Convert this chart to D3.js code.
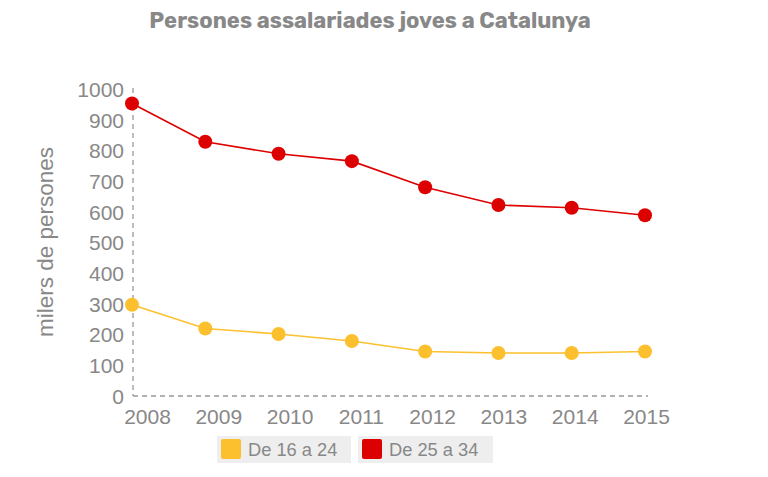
<!DOCTYPE html>
<html><head><meta charset="utf-8">
<script src="https://cdn.jsdelivr.net/npm/d3@7"></script>
<style>body{margin:0;background:#fff}</style>
</head><body>
<svg id="c" width="768" height="477"></svg>
<script>
const years = ["2008","2009","2010","2011","2012","2013","2014","2015"];
const yTicks = [0,100,200,300,400,500,600,700,800,900,1000];
const young = [297, 220, 202, 179, 145, 140, 140, 145];
const adult = [953, 828, 789, 765, 680, 622, 613, 589];
const seriesNames = ["De 16 a 24", "De 25 a 34"];
const seriesColors = ["#fcc02e", "#dd0000"];

const svg = d3.select("#c");
const x = d3.scalePoint().domain(years).range([132, 645]);
const xLab = d3.scalePoint().domain(years).range([147, 646]);
const y = d3.scaleLinear().domain([0, 1000]).range([396, 89]);
const grey = "#888";
const FF = "'Liberation Sans', Arial, sans-serif";

svg.append("text").attr("x", 370).attr("y", 28).attr("text-anchor", "middle")
  .attr("font-family", "Rubik, 'Open Sans', sans-serif").attr("font-weight", "bold")
  .attr("font-size", 22).attr("fill", grey).text("Persones assalariades joves a Catalunya");

svg.append("line").attr("x1", 133).attr("x2", 133).attr("y1", 88).attr("y2", 396)
  .attr("stroke", "#999").attr("stroke-width", 1.3).attr("stroke-dasharray", "5,4");
svg.append("line").attr("x1", 133).attr("x2", 648).attr("y1", 396).attr("y2", 396)
  .attr("stroke", "#999").attr("stroke-width", 1.3).attr("stroke-dasharray", "5,4");

const yAxis = d3.axisLeft(y).tickValues(yTicks).tickFormat(d3.format("d")).tickSize(0).tickPadding(0);
const gy = svg.append("g").attr("transform", "translate(124,0)").call(yAxis);
gy.select(".domain").remove();
gy.selectAll("text").attr("font-family", FF)
  .attr("font-size", 21).attr("fill", grey).attr("dy", "0.35em");

const xAxis = d3.axisBottom(xLab).tickSize(0).tickPadding(0);
const gx = svg.append("g").attr("transform", "translate(0,424)").call(xAxis);
gx.select(".domain").remove();
gx.selectAll("text").attr("font-family", FF)
  .attr("font-size", 21).attr("fill", grey).attr("dy", "0");

svg.append("text").attr("transform", "translate(53,242) rotate(-90)")
  .attr("text-anchor", "middle").attr("font-family", FF)
  .attr("font-size", 22.5).attr("fill", grey).text("milers de persones");

const line = d3.line().x((d, i) => x(years[i])).y(d => y(d));
[young, adult].forEach((s, k) => {
  svg.append("path").datum(s).attr("d", line).attr("fill", "none")
    .attr("stroke", seriesColors[k]).attr("stroke-width", 1.6);
  svg.selectAll(null).data(s).enter().append("circle")
    .attr("cx", (d, i) => x(years[i])).attr("cy", d => y(d)).attr("r", 7)
    .attr("fill", seriesColors[k]);
});

const legX = [217, 358], legW = [134, 135];
seriesNames.forEach((n, k) => {
  const g = svg.append("g").attr("transform", `translate(${legX[k]},436)`);
  g.append("rect").attr("width", legW[k]).attr("height", 27).attr("fill", "#eeeeee");
  g.append("rect").attr("x", 4).attr("y", 3).attr("width", 20).attr("height", 20).attr("rx", 2)
    .attr("fill", seriesColors[k]);
  g.append("text").attr("x", 31).attr("y", 20).attr("font-family", FF)
    .attr("font-size", 18.3).attr("fill", grey).text(n);
});
</script>
</body></html>
